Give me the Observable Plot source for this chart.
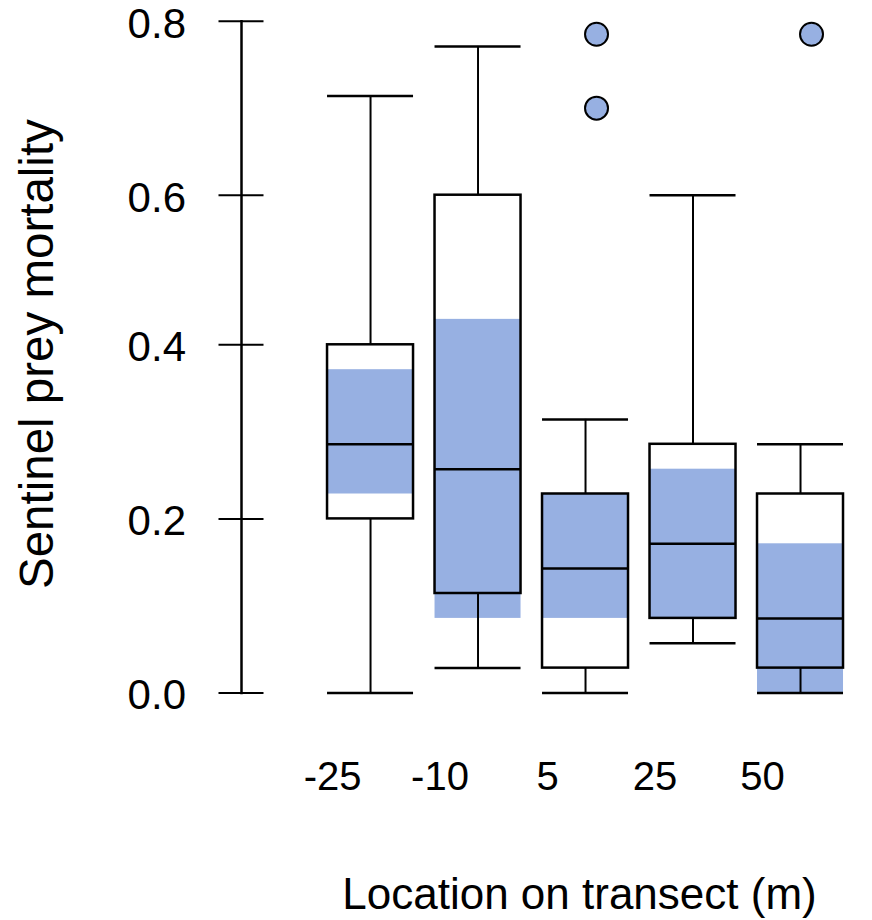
<!DOCTYPE html>
<html>
<head>
<meta charset="utf-8">
<script src="https://cdn.jsdelivr.net/npm/d3@7"></script>
<script src="https://cdn.jsdelivr.net/npm/@observablehq/plot@0.6"></script>
<style>
  html, body { margin: 0; padding: 0; background: #fff; }
  #chart svg { display: block; }
</style>
</head>
<body>
<div id="chart"></div>
<script>
// ---- data ----
const locations   = ["-25", "-10", "5", "25", "50"];
const whiskerLow  = [0.0,    0.0286, 0.0,    0.0571, 0.0];
const q1          = [0.2,    0.1143, 0.0286, 0.0857, 0.0286];
const median      = [0.2857, 0.2571, 0.1429, 0.1714, 0.0857];
const q3          = [0.4,    0.6,    0.2286, 0.2857, 0.2286];
const whiskerHigh = [0.714,  0.771,  0.3143, 0.6,    0.2857];
const ciLow       = [0.2286, 0.0857, 0.0857, 0.0857, 0.0];
const ciHigh      = [0.3714, 0.434,  0.2286, 0.2571, 0.1714];
const outlierLoc  = ["5", "5", "50"];
const outlierVal  = [0.785, 0.70, 0.785];
const yTicks      = [0, 0.2, 0.4, 0.6, 0.8];
const xTitle = "Location on transect (m)";
const yTitle = "Sentinel prey mortality";

const boxes = locations.map((loc, i) => ({
  loc, lo: whiskerLow[i], q1: q1[i], med: median[i], q3: q3[i], hi: whiskerHigh[i],
  ciLo: ciLow[i], ciHi: ciHigh[i]
}));
const outliers = outlierLoc.map((loc, i) => ({loc, v: outlierVal[i]}));

const band = "#97b0e2";
const font = "'Liberation Sans', Arial, Helvetica, sans-serif";

const chart = Plot.plot({
  width: 872,
  height: 920,
  marginLeft: 241,
  marginRight: 0,
  marginTop: 20.7,
  marginBottom: 227.5,
  style: {fontFamily: font, color: "black", background: "white"},
  x: {type: "band", domain: locations, paddingInner: 0.2, paddingOuter: 0.535, align: 0.748, round: false},
  y: {type: "linear", domain: [0, 0.4, 0.6, 0.8], range: [692.5, 344.3, 194.7, 20.7]},
  marks: [
    // y axis line
    Plot.frame({anchor: "left", stroke: "black", strokeWidth: 2.5}),
    // y ticks crossing the axis
    Plot.axisY(yTicks, {anchor: "left", tickSize: 45, dx: 22.5, fill: "none", stroke: "black", strokeWidth: 2, label: null}),
    // y tick labels
    Plot.axisY(yTicks, {anchor: "left", tickSize: 0, tickPadding: 55.5, dy: 3, tickFormat: d3.format(".1f"), fontSize: 42, fill: "black", label: null}),
    // x tick labels
    Plot.axisX({anchor: "bottom", tickSize: 0, tickPadding: 69, dx: -38, fontSize: 40, fill: "black", label: null}),
    // confidence bands
    Plot.barY(boxes, {x: "loc", y1: "ciLo", y2: "ciHi", fill: band}),
    // boxes
    Plot.barY(boxes, {x: "loc", y1: "q1", y2: "q3", fill: "none", stroke: "black", strokeWidth: 2.5}),
    // medians
    Plot.tickY(boxes, {x: "loc", y: "med", stroke: "black", strokeWidth: 2.5}),
    // whiskers
    Plot.ruleX(boxes, {x: "loc", y1: "lo", y2: "q1", stroke: "black", strokeWidth: 2}),
    Plot.ruleX(boxes, {x: "loc", y1: "q3", y2: "hi", stroke: "black", strokeWidth: 2}),
    Plot.tickY(boxes, {x: "loc", y: "lo", stroke: "black", strokeWidth: 2.5}),
    Plot.tickY(boxes, {x: "loc", y: "hi", stroke: "black", strokeWidth: 2.5}),
    // outliers
    Plot.dot(outliers, {x: "loc", y: "v", r: 11.5, dx: 11, fill: band, stroke: "black", strokeWidth: 2}),
    // axis titles
    Plot.text([xTitle], {text: d => d, frameAnchor: "bottom", dx: 22.5, dy: 215.5, lineAnchor: "bottom", textAnchor: "middle", fontSize: 44, fill: "black"}),
    Plot.text([yTitle], {text: d => d, frameAnchor: "left", rotate: -90, dx: -189, dy: -3, lineAnchor: "bottom", textAnchor: "middle", fontSize: 47.5, fill: "black"})
  ]
});
document.getElementById("chart").appendChild(chart);
</script>
</body>
</html>
